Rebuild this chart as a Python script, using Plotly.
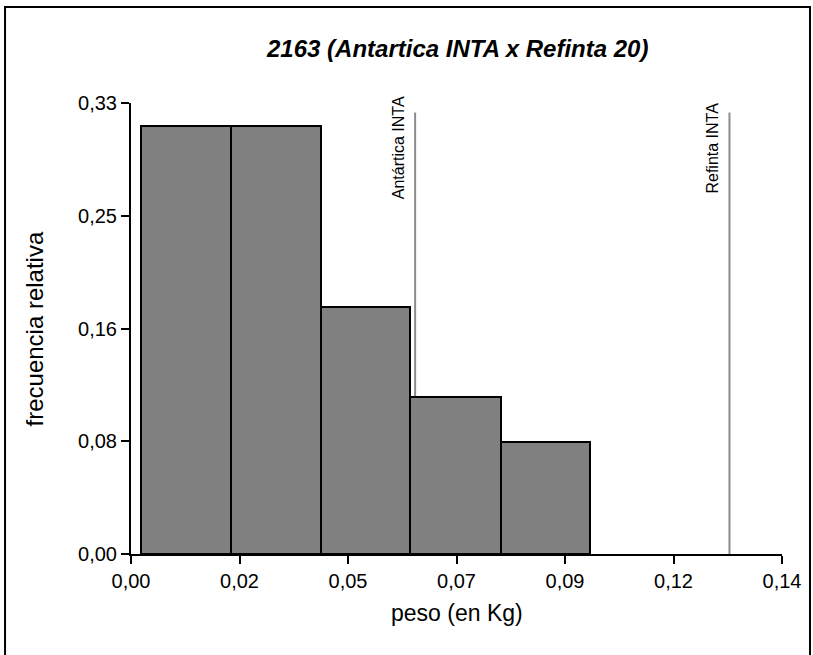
import plotly.graph_objects as go

# Histogram of weights (kg): bin edges and relative frequencies
bin_edges = [0.0021, 0.0214, 0.0408, 0.0601, 0.0795, 0.0988]
rel_freq = [0.313, 0.313, 0.181, 0.115, 0.082]

# Parent reference weights
parent_names = ["Antártica INTA", "Refinta INTA"]
parent_weights = [0.0611, 0.1287]
parent_line_top = 0.323

# Axis ticks
x_tickvals = [0.0, 0.14 / 6, 0.28 / 6, 0.07, 0.56 / 6, 0.70 / 6, 0.14]
x_ticktext = ["0,00", "0,02", "0,05", "0,07", "0,09", "0,12", "0,14"]
y_tickvals = [0.0, 0.0825, 0.165, 0.2475, 0.33]
y_ticktext = ["0,00", "0,08", "0,16", "0,25", "0,33"]

centers = [(a + b) / 2 for a, b in zip(bin_edges[:-1], bin_edges[1:])]
widths = [b - a for a, b in zip(bin_edges[:-1], bin_edges[1:])]

FONT = "Arial, Liberation Sans, sans-serif"

fig = go.Figure()
fig.add_trace(go.Bar(
    x=centers, y=rel_freq, width=widths,
    marker=dict(color="#808080", line=dict(color="black", width=2)),
    showlegend=False, hoverinfo="x+y",
))

for name, w in zip(parent_names, parent_weights):
    fig.add_shape(type="line", x0=w, x1=w, y0=0, y1=parent_line_top,
                  xref="x", yref="y", line=dict(color="#8c8c8c", width=2),
                  layer="below")
    fig.add_annotation(x=w, y=0.9, xref="x", yref="paper", text=name,
                       textangle=-90, showarrow=False, xshift=-17,
                       yanchor="middle", xanchor="center",
                       font=dict(family=FONT, size=16, color="black"))

# Axis titles
fig.add_annotation(x=-0.1475, y=0.5, xref="paper", yref="paper",
                   text="frecuencia relativa", textangle=-90, showarrow=False,
                   yanchor="middle", xanchor="center",
                   font=dict(family=FONT, size=24, color="black"))
fig.add_annotation(x=0.5, y=-0.13, xref="paper", yref="paper",
                   text="peso (en Kg)", showarrow=False, yanchor="middle",
                   font=dict(family=FONT, size=23, color="black"))
fig.add_annotation(x=0.5, y=1.12, xref="paper", yref="paper",
                   text="<b><i>2163 (Antartica INTA x Refinta 20)</i></b>",
                   showarrow=False, yanchor="middle",
                   font=dict(family=FONT, size=24, color="black"))

# Outer frame
fig.add_shape(type="rect", xref="paper", yref="paper",
              x0=-0.1935, x1=1.0430, y0=-0.25, y1=1.2129,
              line=dict(color="black", width=2), fillcolor="rgba(0,0,0,0)")

fig.update_layout(
    width=813, height=655,
    margin=dict(l=131, r=31, t=103, b=101),
    plot_bgcolor="white", paper_bgcolor="white",
    font=dict(family=FONT, size=20, color="black"),
    bargap=0,
    xaxis=dict(range=[0, 0.14], tickvals=x_tickvals, ticktext=x_ticktext,
               showgrid=False, zeroline=False, showline=True,
               linecolor="black", linewidth=2, ticks="outside",
               ticklen=8, tickwidth=2, tickcolor="black",
               tickfont=dict(size=20)),
    yaxis=dict(range=[0, 0.33], tickvals=y_tickvals, ticktext=y_ticktext,
               showgrid=False, zeroline=False, showline=True,
               linecolor="black", linewidth=2, ticks="outside",
               ticklen=8, tickwidth=2, tickcolor="black",
               tickfont=dict(size=20)),
)

fig.write_html("out.html")
